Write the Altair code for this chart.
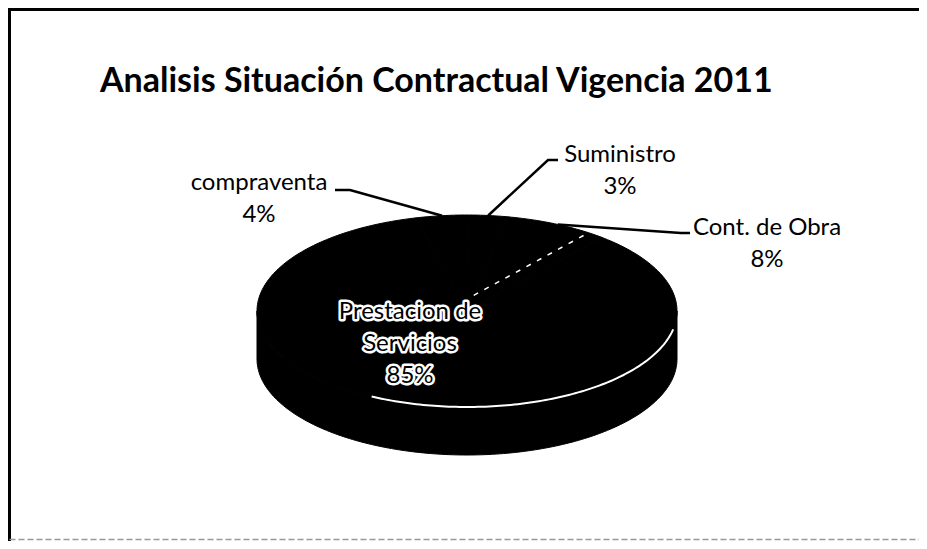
import math
import altair as alt

# ---------------- data ----------------
categories = ["compraventa", "Suministro", "Cont. de Obra", "Prestacion de Servicios"]
values = [4, 3, 8, 85]
pct_labels = ["4%", "3%", "8%", "85%"]
title_text = "Analisis Situación Contractual Vigencia 2011"

# ---------------- layout (reference pixel space) ----------------
CX, CY, RX, RY, DEPTH = 467, 311, 210, 96, 48
START = -14.0  # first slice start, degrees clockwise from 12 o'clock
label_layout = [
    dict(lines=["compraventa"], cx=259, y0=183, leader=[(350, 190), (335, 190)]),
    dict(lines=["Suministro"], cx=620, y0=155, leader=[(548, 160), (558, 160)]),
    dict(lines=["Cont. de Obra"], cx=767, y0=228, leader=[(681, 233), (690, 233)]),
    dict(lines=["Prestacion de", "Servicios"], cx=410, y0=312, leader=None),
]
LINE_H = 32
FONT = "Lato"


def pt(theta, dy=0.0):
    r = math.radians(theta)
    return [CX + RX * math.sin(r), CY - RY * math.cos(r) + dy]


def arc(a0, a1, dy=0.0, step=1.0):
    n = max(2, int(abs(a1 - a0) / step) + 1)
    return [pt(a0 + (a1 - a0) * i / (n - 1), dy) for i in range(n)]


total = float(sum(values))
bounds = []
acc = START
for v in values:
    a0 = acc
    a1 = acc + 360.0 * v / total
    bounds.append((a0, a1))
    acc = a1

# filled pie body (side band + top slices)
polys = []
side = arc(90, 270) + arc(270, 90, DEPTH)
polys.append({"type": "Feature", "properties": {"part": "side"},
              "geometry": {"type": "Polygon", "coordinates": [side + [side[0]]]}})
for cat, (a0, a1) in zip(categories, bounds):
    ring = [[CX, CY]] + arc(a0, a1) + [[CX, CY]]
    polys.append({"type": "Feature", "properties": {"part": cat},
                  "geometry": {"type": "Polygon", "coordinates": [ring]}})

# leader lines
leaders = []
for cat, (a0, a1), lay in zip(categories, bounds, label_layout):
    if lay["leader"] is None:
        continue
    edge = pt((a0 + a1) / 2.0)
    coords = [edge] + [list(p) for p in lay["leader"]]
    leaders.append({"type": "Feature", "properties": {"cat": cat},
                    "geometry": {"type": "LineString", "coordinates": coords}})

# white highlights: front rim of big slice + one visible slice boundary
highlights = [{"type": "Feature", "properties": {},
               "geometry": {"type": "LineString", "coordinates": arc(101, 207)}}]
bnd = bounds[2][1]
p_end = pt(bnd)
boundary = [[CX + (p_end[0] - CX) * f, CY - 12 + (p_end[1] - CY) * f] for f in (0.05, 0.9)]
dashed = [{"type": "Feature", "properties": {},
           "geometry": {"type": "LineString", "coordinates": boundary}}]

# chart frame (scanned box: heavy top/left, faint bottom)
frame_dark = [{"type": "Feature", "properties": {},
               "geometry": {"type": "LineString",
                            "coordinates": [[9.5, 545], [9.5, 9.5], [919, 9.5]]}}]
frame_light = [{"type": "Feature", "properties": {},
                "geometry": {"type": "LineString",
                             "coordinates": [[9.5, 539.5], [919, 539.5]]}}]

# text rows
rows = []
for cat, pct, lay in zip(categories, pct_labels, label_layout):
    lines = lay["lines"] + [pct]
    for i, t in enumerate(lines):
        rows.append({"text": t, "lon": lay["cx"], "lat": lay["y0"] + i * LINE_H,
                     "inside": lay["leader"] is None})
title_rows = [{"text": title_text, "lon": 100, "lat": 92}]


def fc(features):
    return alt.Data(values={"type": "FeatureCollection", "features": features},
                    format=alt.DataFormat(property="features", type="json"))


body = alt.Chart(fc(polys)).mark_geoshape(fill="black", stroke="black", strokeWidth=1)
lead = alt.Chart(fc(leaders)).mark_geoshape(filled=False, stroke="black", strokeWidth=2.5)
hl = alt.Chart(fc(highlights)).mark_geoshape(filled=False, stroke="white", strokeWidth=2)
dash = alt.Chart(fc(dashed)).mark_geoshape(filled=False, stroke="white", strokeWidth=1.5,
                                           strokeDash=[5, 7])
fr1 = alt.Chart(fc(frame_dark)).mark_geoshape(filled=False, stroke="black", strokeWidth=3)
fr2 = alt.Chart(fc(frame_light)).mark_geoshape(filled=False, stroke="#999999",
                                               strokeWidth=1.5, strokeDash=[6, 3])

lab_data = alt.Data(values=rows)
halo = alt.Chart(lab_data).transform_filter("datum.inside").mark_text(
    font=FONT, fontSize=24, baseline="middle", align="center",
    color="white", stroke="white", strokeWidth=5, strokeJoin="round"
).encode(longitude="lon:Q", latitude="lat:Q", text="text:N")
labels = alt.Chart(lab_data).mark_text(
    font=FONT, fontSize=24, baseline="middle", align="center", color="black"
).encode(longitude="lon:Q", latitude="lat:Q", text="text:N")

title = alt.Chart(alt.Data(values=title_rows)).mark_text(
    font=FONT, fontSize=34, fontWeight="bold", baseline="alphabetic", align="left",
    color="black"
).encode(longitude="lon:Q", latitude="lat:Q", text="text:N")

chart = alt.layer(fr1, fr2, body, hl, dash, lead, halo, labels, title).project(
    type="identity", scale=1, translate=[-8, -8]
).properties(
    width=911, height=533, autosize="none", padding=0, background="white"
).configure_view(stroke="transparent", strokeWidth=0)

chart.save("out.html", embed_options={"renderer": "svg", "actions": False})
